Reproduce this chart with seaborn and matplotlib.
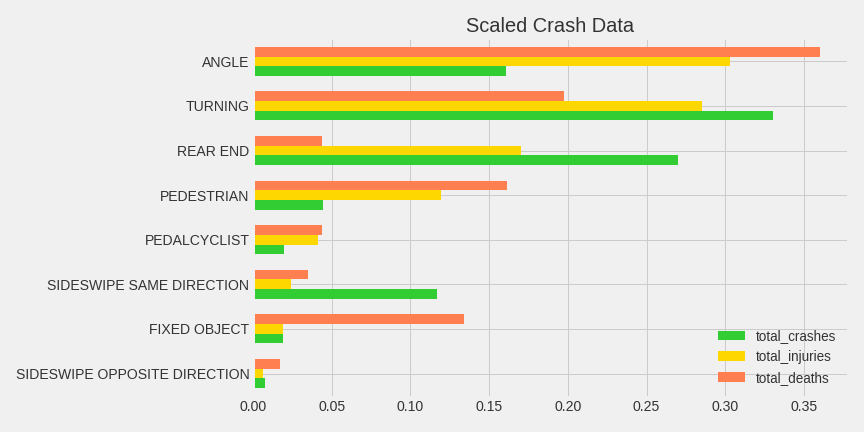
import matplotlib
matplotlib.use("Agg")
import matplotlib.pyplot as plt
import seaborn as sns
import pandas as pd

# crash types, top to bottom
crash_types = [
    "ANGLE",
    "TURNING",
    "REAR END",
    "PEDESTRIAN",
    "PEDALCYCLIST",
    "SIDESWIPE SAME DIRECTION",
    "FIXED OBJECT",
    "SIDESWIPE OPPOSITE DIRECTION",
]
total_crashes = [0.161, 0.3305, 0.2702, 0.0445, 0.0197, 0.117, 0.0192, 0.0078]
total_injuries = [0.3033, 0.2855, 0.1705, 0.1197, 0.0413, 0.0243, 0.0192, 0.0066]
total_deaths = [0.360, 0.1977, 0.044, 0.1615, 0.044, 0.035, 0.1343, 0.0173]

df = pd.DataFrame({
    "crash_type": crash_types,
    "total_crashes": total_crashes,
    "total_injuries": total_injuries,
    "total_deaths": total_deaths,
})
df_long = df.melt(id_vars="crash_type", var_name="metric", value_name="value")

plt.style.use("fivethirtyeight")
plt.rcParams["font.family"] = ["Liberation Sans", "DejaVu Sans"]
plt.rcParams["text.color"] = "#333333"
plt.rcParams["xtick.color"] = "#333333"
plt.rcParams["ytick.color"] = "#333333"

colors = {"total_crashes": "#32CD32", "total_injuries": "#FFD700", "total_deaths": "#FF7F50"}

fig, ax = plt.subplots(figsize=(12, 6), dpi=72)
fig.subplots_adjust(left=0.2928, right=0.9815, top=0.9127, bottom=0.0817)

sns.barplot(
    data=df_long,
    y="crash_type",
    x="value",
    hue="metric",
    hue_order=["total_deaths", "total_injuries", "total_crashes"],
    order=crash_types,
    palette=colors,
    width=0.65,
    linewidth=0,
    saturation=1,
    ax=ax,
)

ax.set_ylim(7.52, -0.53)
ax.set_xlim(0, max(total_deaths) * 1.05)
ax.yaxis.grid(True)
ax.xaxis.grid(True)
ax.set_axisbelow(True)
ax.set_xlabel("")
ax.set_ylabel("")
ax.tick_params(axis="both", labelsize=14)
ax.set_title("Scaled Crash Data", fontsize=20)

handles, labels = ax.get_legend_handles_labels()
ax.legend(handles[::-1], labels[::-1], loc="lower right", fontsize=13.5, frameon=False)

plt.savefig("out.png", dpi=72, facecolor=fig.get_facecolor())
plt.close()
